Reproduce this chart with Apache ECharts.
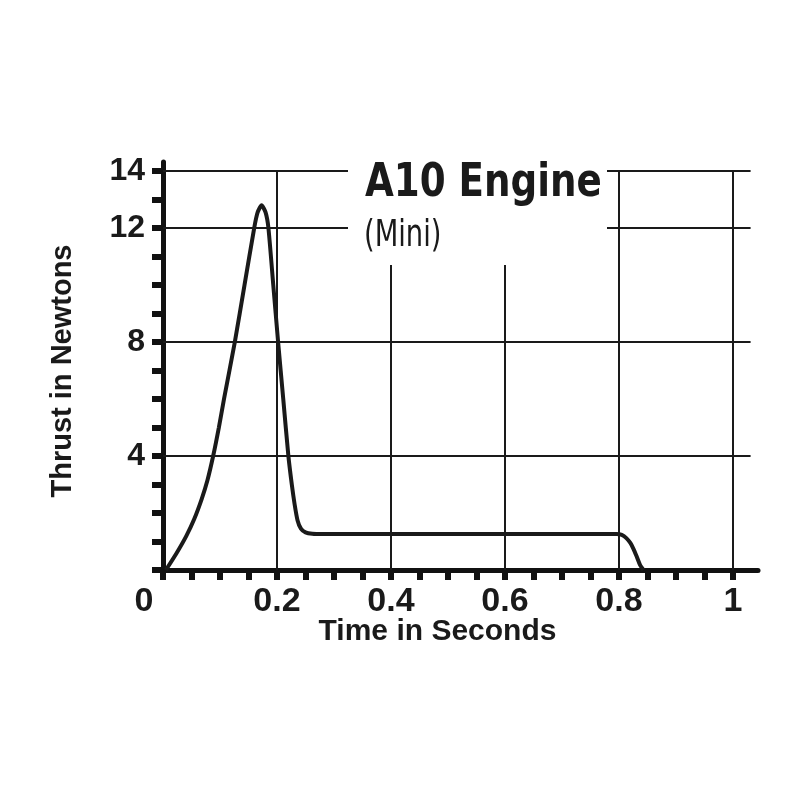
<!DOCTYPE html>
<html>
<head>
<meta charset="utf-8">
<script src="https://cdn.jsdelivr.net/npm/echarts@6/dist/echarts.min.js"></script>
<style>
  html, body { margin: 0; padding: 0; background: #ffffff; }
  #chart { width: 800px; height: 800px; }
</style>
</head>
<body>
<div id="chart"></div>
<script>
// ---- data ----
const timeSec = [0.005, 0.024, 0.041, 0.055, 0.068, 0.078, 0.088, 0.098, 0.107, 0.126, 0.143, 0.160, 0.166, 0.173, 0.180, 0.185, 0.1935, 0.202, 0.211, 0.220, 0.226, 0.231, 0.236, 0.242, 0.250, 0.262, 0.28, 0.5, 0.796, 0.805, 0.813, 0.820, 0.825, 0.831, 0.837, 0.843];
const thrustN = [0, 0.6, 1.2, 1.8, 2.5, 3.15, 4.0, 5.0, 6.0, 8.0, 10.0, 12.0, 12.55, 12.8, 12.55, 12.0, 10.0, 8.0, 6.0, 4.0, 3.0, 2.3, 1.75, 1.45, 1.32, 1.27, 1.26, 1.26, 1.26, 1.23, 1.12, 0.95, 0.76, 0.48, 0.18, 0];
const xLabelValues = [0, 0.2, 0.4, 0.6, 0.8, 1];
const xTickValues = [0, 0.05, 0.1, 0.15, 0.2, 0.25, 0.3, 0.35, 0.4, 0.45, 0.5, 0.55, 0.6, 0.65, 0.7, 0.75, 0.8, 0.85, 0.9, 0.95, 1];
const yLabelValues = [4, 8, 12, 14];
const yTickValues = [0, 1, 2, 3, 4, 5, 6, 7, 8, 9, 10, 11, 12, 13, 14];
const vGridValues = [0.2, 0.4, 0.6, 0.8, 1];
const hGridValues = [4, 8, 12, 14];
const titleText = 'A10 Engine';
const subtitleText = '(Mini)';
const xName = 'Time in Seconds';
const yName = 'Thrust in Newtons';

const xMax = 1.044, yMax = 14.32, hGridEnd = 1.031;

const chart = echarts.init(document.getElementById('chart'), null, { renderer: 'canvas' });
const seriesData = timeSec.map((t, i) => [t, thrustN[i]]);
const gridLines = [];
hGridValues.forEach(v => gridLines.push([{ coord: [0, v] }, { coord: [hGridEnd, v] }]));
vGridValues.forEach(v => gridLines.push([{ coord: [v, 0] }, { coord: [v, 14] }]));

const F = "'Liberation Sans', Arial, sans-serif";
const TF = "'DejaVu Sans Condensed', 'Liberation Sans', sans-serif";
chart.setOption({
  backgroundColor: '#ffffff',
  animation: false,
  grid: { left: 163, top: 162, right: 42, bottom: 230, containLabel: false },
  xAxis: {
    type: 'value', min: 0, max: xMax,
    name: xName, nameLocation: 'middle', nameGap: 47, nameMoveOverlap: false,
    nameTextStyle: { fontFamily: F, fontWeight: 'bold', fontSize: 30, color: '#1a1a1a', padding: [0, 46, 0, 0] },
    axisLine: { show: true, lineStyle: { color: '#111', width: 5 } },
    axisTick: { show: true, customValues: xTickValues, inside: false, length: 10, lineStyle: { color: '#111', width: 6 } },
    axisLabel: {
      customValues: xLabelValues, margin: 15,
      fontFamily: F, fontWeight: 'bold', fontSize: 34, color: '#1a1a1a',
      formatter: v => v === 0 ? '{z|0}' : String(v),
      rich: { z: { fontFamily: F, fontWeight: 'bold', fontSize: 34, color: '#1a1a1a', padding: [0, 38, 0, 0] } }
    },
    splitLine: { show: false }
  },
  yAxis: {
    type: 'value', min: 0, max: yMax,
    name: yName, nameLocation: 'middle', nameGap: 86, nameMoveOverlap: false,
    nameTextStyle: { fontFamily: F, fontWeight: 'bold', fontSize: 29, color: '#1a1a1a', padding: [0, 10, 0, 0] },
    axisLine: { show: true, lineStyle: { color: '#111', width: 5 } },
    axisTick: { show: true, customValues: yTickValues, inside: false, length: 11, lineStyle: { color: '#111', width: 6 } },
    axisLabel: { customValues: yLabelValues, margin: 18, fontFamily: F, fontWeight: 'bold', fontSize: 32, color: '#1a1a1a' },
    splitLine: { show: false }
  },
  series: [{
    type: 'line',
    data: seriesData,
    smooth: 0.2,
    symbol: 'none',
    lineStyle: { color: '#1a1a1a', width: 4 },
    z: 5,
    markLine: {
      silent: true, symbol: 'none', label: { show: false },
      lineStyle: { color: '#1a1a1a', width: 2, type: 'solid' },
      data: gridLines
    }
  }],
  graphic: [
    { type: 'rect', z: 10, shape: { x: 348, y: 158, width: 259, height: 107 }, style: { fill: '#ffffff' } },
    { type: 'text', z: 11, x: 365, y: 184, scaleX: 0.9, style: { text: titleText, font: "bold 46px " + TF, fill: '#1a1a1a', textAlign: 'left', textVerticalAlign: 'middle' } },
    { type: 'text', z: 11, x: 364, y: 236, scaleX: 0.8, style: { text: subtitleText, font: "38px " + TF, fill: '#1a1a1a', textAlign: 'left', textVerticalAlign: 'middle' } }
  ]
});
</script>
</body>
</html>
